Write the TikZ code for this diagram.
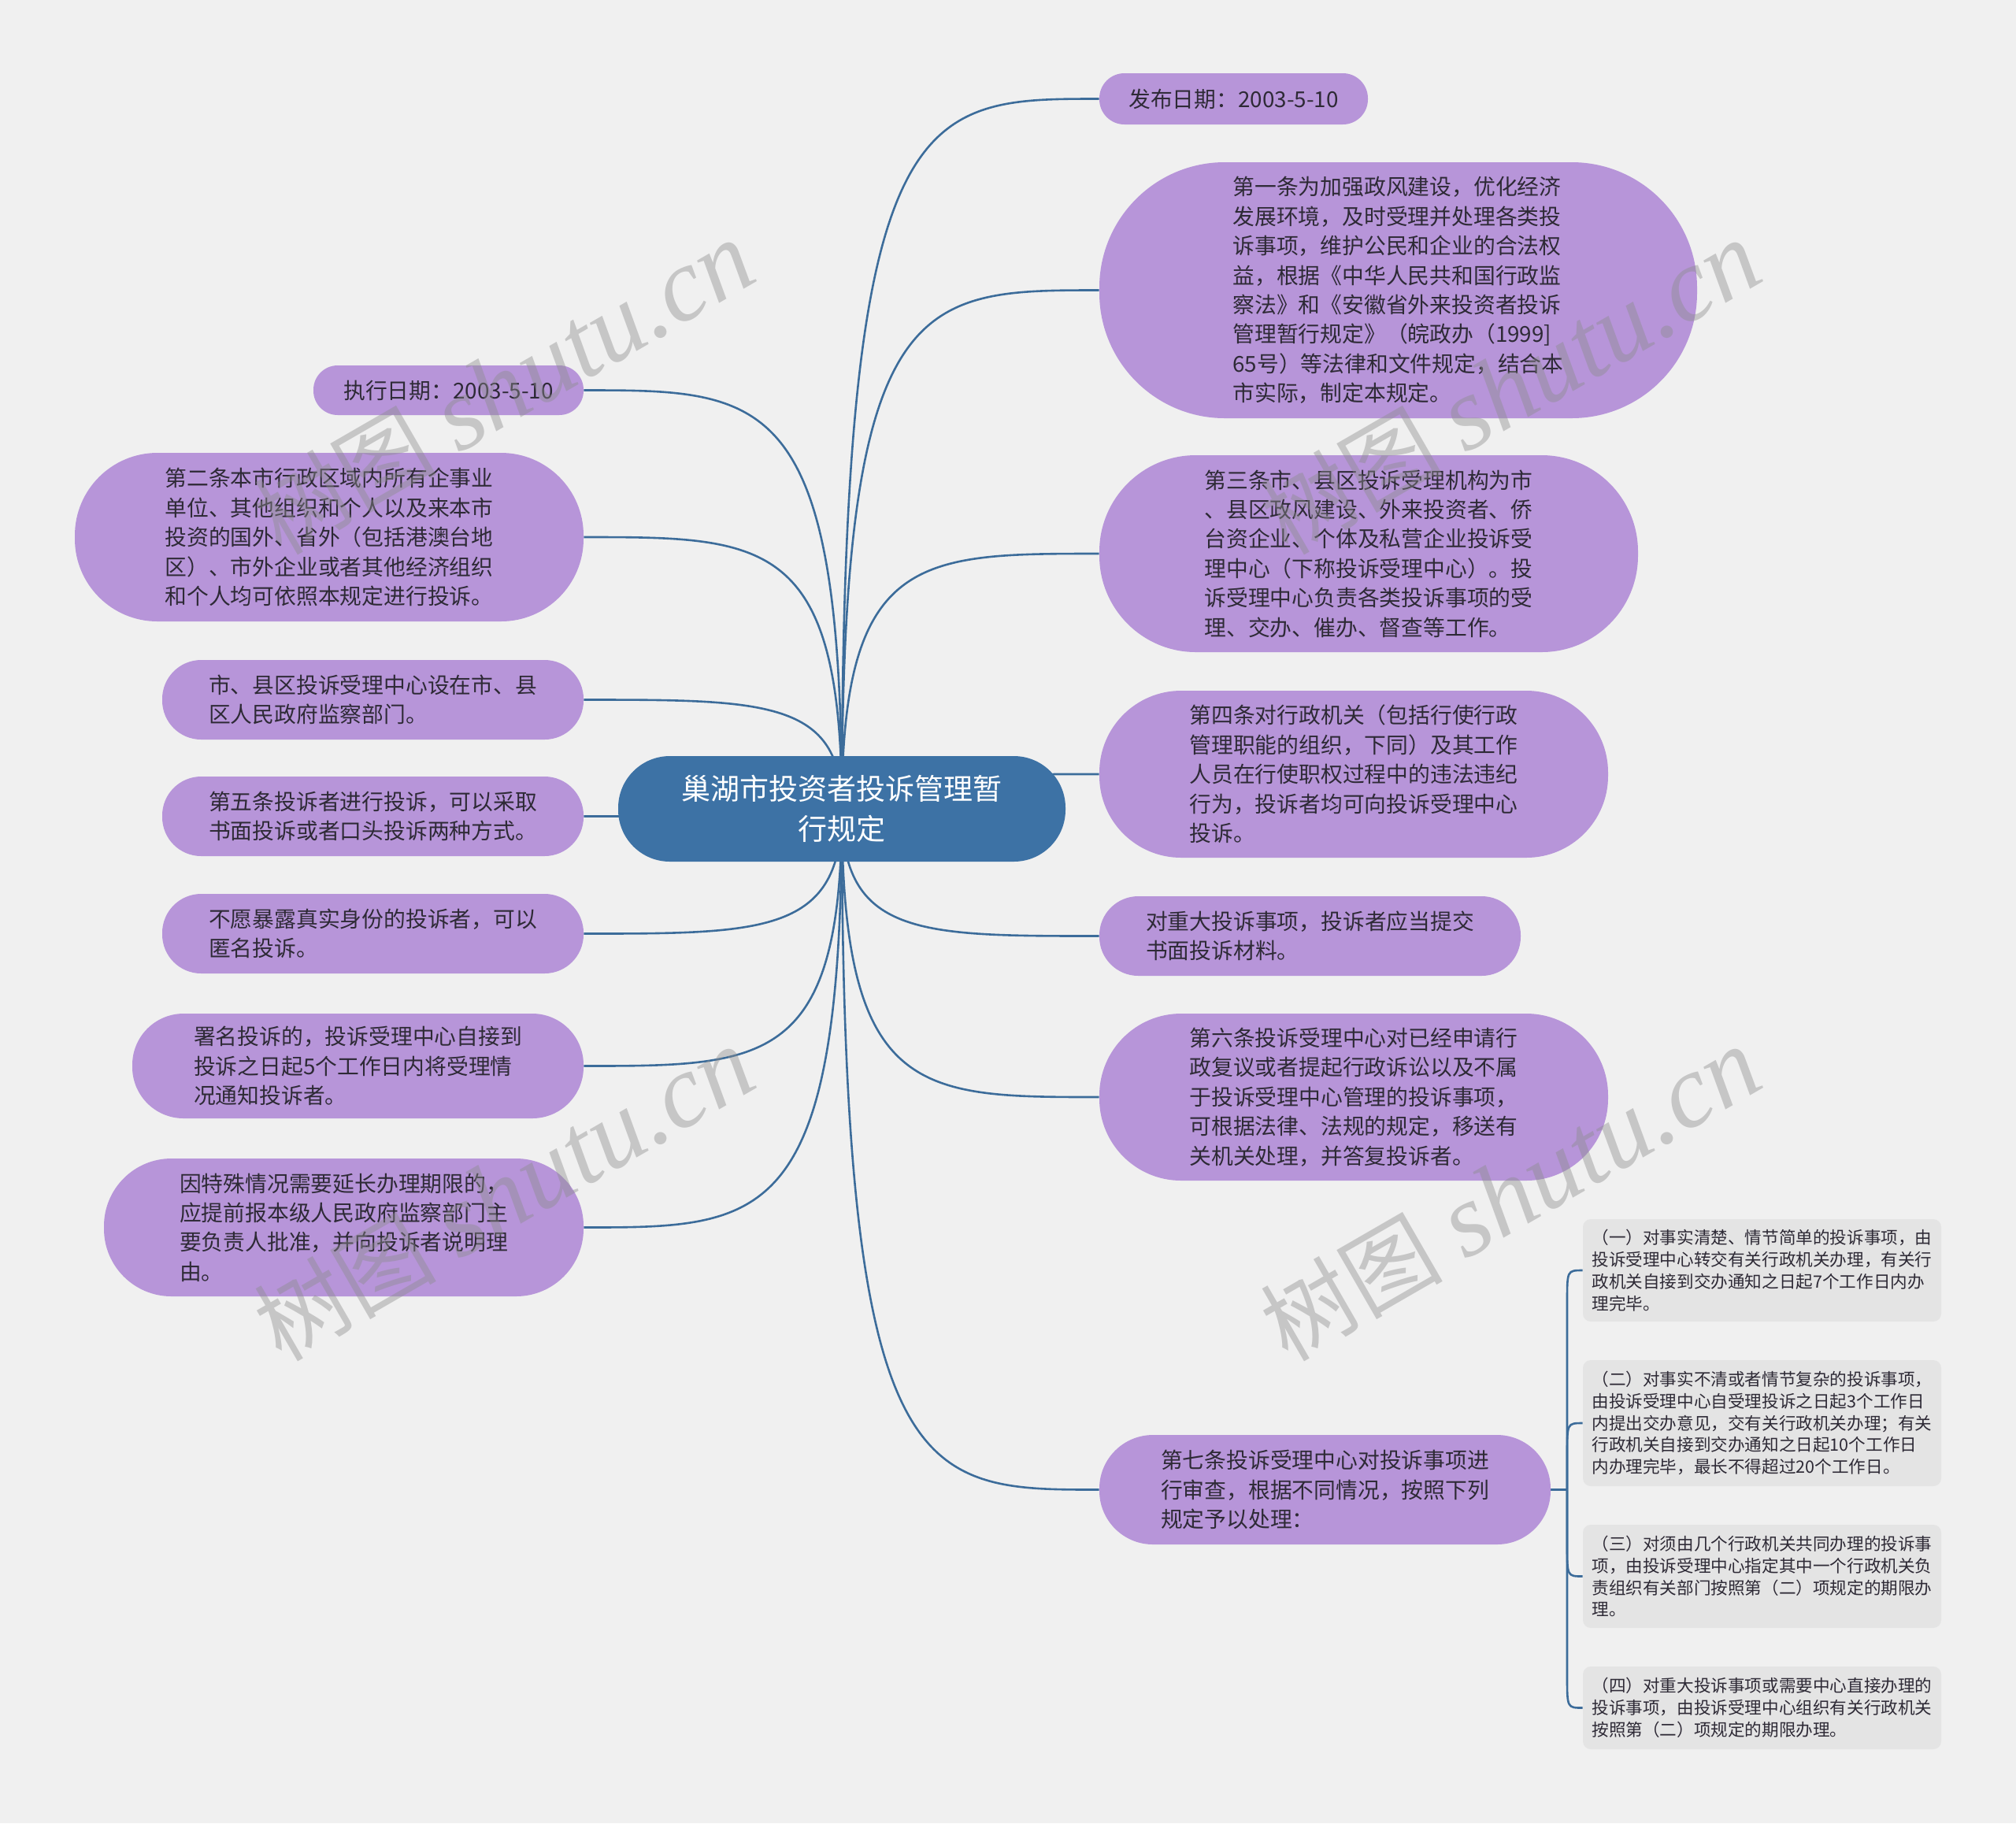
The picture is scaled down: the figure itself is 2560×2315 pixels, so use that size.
\documentclass[tikz,border=0pt]{standalone}
\usepackage{fontspec}
\setmainfont{Noto Sans CJK SC}
\newfontfamily\wmcjk{Noto Sans CJK SC}
\newfontfamily\wmlat{Liberation Serif}
\usetikzlibrary{calc,backgrounds}
\definecolor{bgc}{HTML}{F0F0F0}
\definecolor{pfill}{HTML}{B795D9}
\definecolor{rootc}{HTML}{3D72A5}
\definecolor{linec}{HTML}{3C6C9A}
\definecolor{txtc}{HTML}{2E2A36}
\definecolor{subfill}{HTML}{E4E4E4}
\definecolor{wmc}{HTML}{8C8C8C}
\begin{document}
\begin{tikzpicture}[x=0.5pt,y=-0.5pt,
  mnode/.style={fill=pfill, text=txtc, inner sep=0pt, align=left,
    font=\fontsize{13.9pt}{18.7pt}\selectfont},
  sz/.style n args={2}{minimum width=#1pt, minimum height=#2pt, rounded corners={0.49*#2pt}},
  snode/.style={fill=subfill, text=txtc, inner sep=0pt, align=left, rounded corners=5pt,
    minimum width=227.5pt, font=\fontsize{10.8pt}{13.9pt}\selectfont},
  rootnode/.style={fill=rootc, text=white, inner sep=0pt, align=center,
    font=\fontsize{18.5pt}{25.3pt}\selectfont},
  conn/.style={draw=linec, line width=1.3pt},
  mm/.style={to path={.. controls (\tikztostart |- \tikztotarget) and ($(\tikztostart |- \tikztotarget)!0.3!(\tikztotarget)$) .. (\tikztotarget)}},
  wm/.style={text=wmc, opacity=0.42, rotate=30, inner sep=0pt}
]
\useasboundingbox (0,0) rectangle (2560,2315);

% root
\node[rootnode, sz={284}{67}] (root) at (1069,1027) {巢湖市投资者投诉管理暂\\行规定};

% right side
\node[mnode, sz={170.5}{32.5}] (R1) at (1566.5,125.5) {发布日期：2003-5-10};
\node[mnode, sz={379.5}{162.5}] (R2) at (1775.5,368.5) {第一条为加强政风建设，优化经济\\发展环境，及时受理并处理各类投\\诉事项，维护公民和企业的合法权\\益，根据《中华人民共和国行政监\\察法》和《安徽省外来投资者投诉\\管理暂行规定》（皖政办（1999]\\65号）等法律和文件规定，结合本\\市实际，制定本规定。};
\node[mnode, sz={342}{125}] (R3) at (1738,703) {第三条市、县区投诉受理机构为市\\、县区政风建设、外来投资者、侨\\台资企业、个体及私营企业投诉受\\理中心（下称投诉受理中心）。投\\诉受理中心负责各类投诉事项的受\\理、交办、催办、督查等工作。};
\node[mnode, sz={323}{106}] (R4) at (1719,983) {第四条对行政机关（包括行使行政\\管理职能的组织，下同）及其工作\\人员在行使职权过程中的违法违纪\\行为，投诉者均可向投诉受理中心\\投诉。};
\node[mnode, sz={267.5}{50.5}] (R5) at (1663.5,1188.5) {对重大投诉事项，投诉者应当提交\\书面投诉材料。};
\node[mnode, sz={323}{106}] (R6) at (1719,1393) {第六条投诉受理中心对已经申请行\\政复议或者提起行政诉讼以及不属\\于投诉受理中心管理的投诉事项，\\可根据法律、法规的规定，移送有\\关机关处理，并答复投诉者。};
\node[mnode, sz={286.5}{69.5}] (R7) at (1682.5,1891.5) {第七条投诉受理中心对投诉事项进\\行审查，根据不同情况，按照下列\\规定予以处理：};

% sub nodes
\node[snode, minimum height=65pt] (S1) at (2237.5,1613) {（一）对事实清楚、情节简单的投诉事项，由\\投诉受理中心转交有关行政机关办理，有关行\\政机关自接到交办通知之日起7个工作日内办\\理完毕。};
\node[snode, minimum height=80pt] (S2) at (2237.5,1807) {（二）对事实不清或者情节复杂的投诉事项，\\由投诉受理中心自受理投诉之日起3个工作日\\内提出交办意见，交有关行政机关办理；有关\\行政机关自接到交办通知之日起10个工作日\\内办理完毕，最长不得超过20个工作日。};
\node[snode, minimum height=65.5pt] (S3) at (2237.5,2001.5) {（三）对须由几个行政机关共同办理的投诉事\\项，由投诉受理中心指定其中一个行政机关负\\责组织有关部门按照第（二）项规定的期限办\\理。};
\node[snode, minimum height=52.5pt] (S4) at (2237.5,2168.5) {（四）对重大投诉事项或需要中心直接办理的\\投诉事项，由投诉受理中心组织有关行政机关\\按照第（二）项规定的期限办理。};

% left side
\node[mnode, sz={171.5}{31.5}] (L1) at (569.5,495.5) {执行日期：2003-5-10};
\node[mnode, sz={323}{107}] (L2) at (418,682) {第二条本市行政区域内所有企事业\\单位、其他组织和个人以及来本市\\投资的国外、省外（包括港澳台地\\区）、市外企业或者其他经济组织\\和个人均可依照本规定进行投诉。};
\node[mnode, sz={267.5}{50.5}] (L3) at (473.5,888.5) {市、县区投诉受理中心设在市、县\\区人民政府监察部门。};
\node[mnode, sz={267.5}{50.5}] (L4) at (473.5,1036.5) {第五条投诉者进行投诉，可以采取\\书面投诉或者口头投诉两种方式。};
\node[mnode, sz={267.5}{50.5}] (L5) at (473.5,1185.5) {不愿暴露真实身份的投诉者，可以\\匿名投诉。};
\node[mnode, sz={286.5}{66.5}] (L6) at (454.5,1353.5) {署名投诉的，投诉受理中心自接到\\投诉之日起5个工作日内将受理情\\况通知投诉者。};
\node[mnode, sz={304.5}{87.5}] (L7) at (436.5,1558.5) {因特殊情况需要延长办理期限的，\\应提前报本级人民政府监察部门主\\要负责人批准，并向投诉者说明理\\由。};

\coordinate (jn) at (1990,1891.5);

\begin{scope}[on background layer]
  \fill[bgc] (0,0) rectangle (2560,2315);
  \foreach \n in {R1,R2,R3,R4,R5,R6,R7}
    \draw[conn] (root.center) to[mm] (\n.west);
  \foreach \n in {L1,L2,L3,L4,L5,L6,L7}
    \draw[conn] (root.center) to[mm] (\n.east);
  \draw[conn] (R7.east) -- (jn);
  \draw[conn] (jn) -- ($(jn |- S1.west)+(0,40)$) .. controls (jn |- S1.west) .. (S1.west);
  \draw[conn] (jn) -- ($(jn |- S2.west)+(0,40)$) .. controls (jn |- S2.west) .. (S2.west);
  \draw[conn] (jn) -- ($(jn |- S3.west)+(0,-40)$) .. controls (jn |- S3.west) .. (S3.west);
  \draw[conn] (jn) -- ($(jn |- S4.west)+(0,-40)$) .. controls (jn |- S4.west) .. (S4.west);
\end{scope}

% watermarks
\foreach \p/\nm in {{(640,492)}/wma,{(1918,492)}/wmb,{(640,1516)}/wmc,{(1918,1516)}/wmd}
  \node[wm] (\nm) at \p {{\wmcjk\fontsize{58pt}{60pt}\selectfont 树图}\hspace{14pt}{\wmlat\itshape\fontsize{66pt}{68pt}\selectfont shutu.cn}};
\end{tikzpicture}
\end{document}
